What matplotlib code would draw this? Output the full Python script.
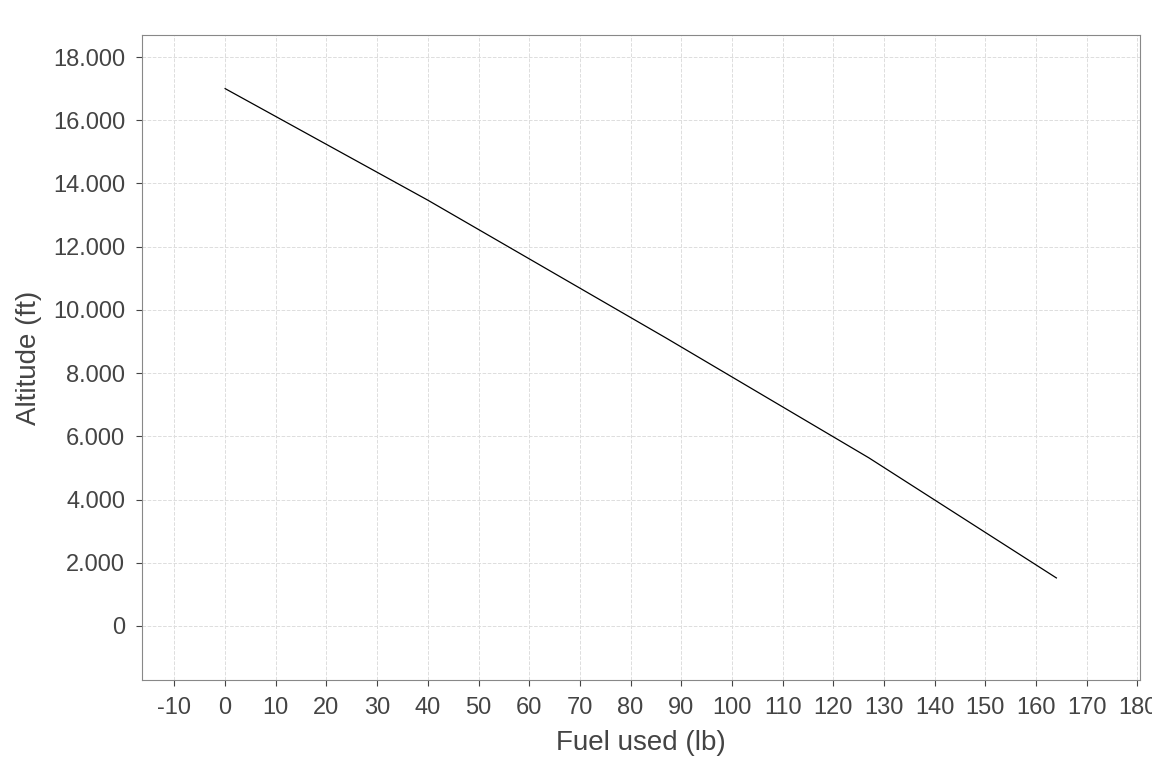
import matplotlib
matplotlib.use("Agg")
import matplotlib.pyplot as plt
from matplotlib.ticker import FuncFormatter, MultipleLocator

# fuel used (lb) vs altitude (ft)
fuel = [0, 40, 87, 127, 164]
altitude = [17000, 13470, 9110, 5320, 1520]

plt.rcParams["font.family"] = ["Liberation Sans", "DejaVu Sans"]
plt.rcParams["axes.unicode_minus"] = False
GRAY = "#444444"

fig = plt.figure(figsize=(11.52, 7.68), dpi=100)
ax = fig.add_axes([142 / 1152, 1 - 680 / 768, 998 / 1152, 645 / 768])

ax.plot(fuel, altitude, color="black", linewidth=0.9)
ax.set_xlim(-16.4, 180.5)
ax.set_ylim(-1709, 18696)
ax.xaxis.set_major_locator(MultipleLocator(10))
ax.yaxis.set_major_locator(MultipleLocator(2000))
ax.yaxis.set_major_formatter(FuncFormatter(lambda v, _: f"{int(v):,}".replace(",", ".")))
ax.grid(True, color="#dddddd", linestyle="--", linewidth=0.7)
ax.tick_params(colors=GRAY, labelsize=17, length=4, pad=8)
for s in ax.spines.values():
    s.set_color("#888888")
ax.set_xlabel("Fuel used (lb)", fontsize=20, color=GRAY, labelpad=8)
ax.set_ylabel("Altitude (ft)", fontsize=20, color=GRAY, labelpad=8)

fig.savefig("out.png", dpi=100)
